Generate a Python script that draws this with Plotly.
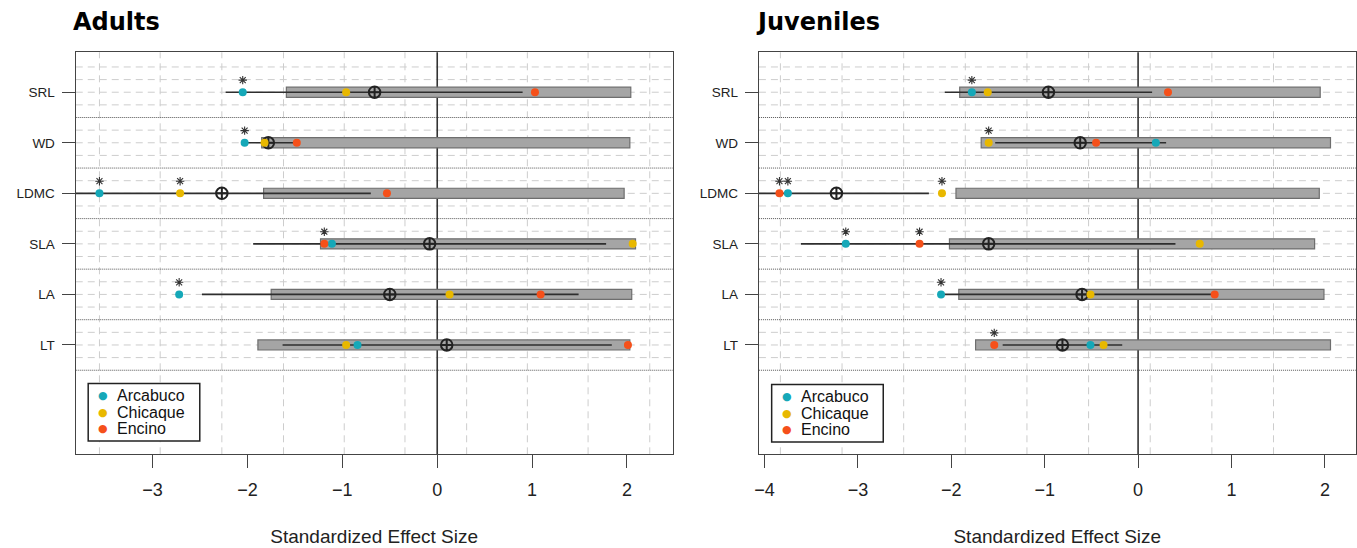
import plotly.graph_objects as go

# ---- data -------------------------------------------------------------
traits = ["SRL", "WD", "LDMC", "SLA", "LA", "LT"]
sites = ["Arcabuco", "Chicaque", "Encino"]

# Adults
ad_box_lo = [-1.59, -1.85, -1.83, -1.23, -1.75, -1.89]
ad_box_hi = [2.04, 2.03, 1.97, 2.09, 2.05, 2.03]
ad_line_lo = [-2.23, -2.00, -3.95, -1.94, -2.48, -1.63]
ad_line_hi = [0.90, -1.48, -0.70, 1.78, 1.49, 1.84]
ad_mean = [-0.66, -1.78, -2.27, -0.08, -0.50, 0.10]
ad_arcabuco = [-2.05, -2.03, -3.56, -1.11, -2.72, -0.84]
ad_chicaque = [-0.96, -1.82, -2.71, 2.06, 0.13, -0.96]
ad_encino = [1.03, -1.48, -0.53, -1.19, 1.09, 2.01]
ad_sig_arcabuco = [1, 1, 1, 0, 1, 0]
ad_sig_chicaque = [0, 0, 1, 0, 0, 0]
ad_sig_encino = [0, 0, 0, 1, 0, 0]

# Juveniles
ju_box_lo = [-1.91, -1.68, -1.95, -2.02, -1.92, -1.74]
ju_box_hi = [1.95, 2.06, 1.94, 1.89, 1.99, 2.06]
ju_line_lo = [-2.07, -1.53, -4.20, -3.61, -2.10, -1.45]
ju_line_hi = [0.15, 0.30, -2.24, 0.40, 0.85, -0.17]
ju_mean = [-0.96, -0.62, -3.23, -1.60, -0.60, -0.81]
ju_arcabuco = [-1.78, 0.19, -3.75, -3.13, -2.11, -0.51]
ju_chicaque = [-1.61, -1.60, -2.10, 0.66, -0.51, -0.37]
ju_encino = [0.32, -0.45, -3.84, -2.34, 0.82, -1.54]
ju_sig_arcabuco = [1, 0, 1, 1, 1, 0]
ju_sig_chicaque = [0, 1, 1, 0, 0, 0]
ju_sig_encino = [0, 0, 1, 1, 0, 1]

ad_xticks = [-3, -2, -1, 0, 1, 2]
ju_xticks = [-4, -3, -2, -1, 0, 1, 2]
ad_vgrid = [-3.56, -2.92, -2.27, -1.62, -0.98, -0.34, 0.31, 0.95, 1.59, 2.24]
ju_vgrid = [-3.83, -3.17, -2.51, -1.85, -1.19, -0.53, 0.13, 0.79, 1.45]

# ---- style ------------------------------------------------------------
site_colors = {"Arcabuco": "#15A8B8", "Chicaque": "#E8B800", "Encino": "#F5501A"}
W, H = 1357, 548
FONT = "Liberation Sans, Arial, sans-serif"
ypos = [len(traits) - i for i in range(len(traits))]   # SRL on top
yrange = [-1.163, 6.79]

panels = [
    dict(title="Adults", xa="x", ya="y", xrange=[-3.81, 2.48],
         xticks=ad_xticks, vgrid=ad_vgrid,
         box_lo=ad_box_lo, box_hi=ad_box_hi, line_lo=ad_line_lo, line_hi=ad_line_hi,
         mean=ad_mean, vals=[ad_arcabuco, ad_chicaque, ad_encino],
         sig=[ad_sig_arcabuco, ad_sig_chicaque, ad_sig_encino],
         dom=[71 / W, 670 / W], leg_px=(83.5, 383.5)),
    dict(title="Juveniles", xa="x2", ya="y2", xrange=[-4.06, 2.33],
         xticks=ju_xticks, vgrid=ju_vgrid,
         box_lo=ju_box_lo, box_hi=ju_box_hi, line_lo=ju_line_lo, line_hi=ju_line_hi,
         mean=ju_mean, vals=[ju_arcabuco, ju_chicaque, ju_encino],
         sig=[ju_sig_arcabuco, ju_sig_chicaque, ju_sig_encino],
         dom=[756.7 / W, 1355.7 / W], leg_px=(769.5, 384.5)),
]

fig = go.Figure()
shapes = []
annotations = []
ydom = [1 - 454.3 / H, 1 - 52.3 / H]


def px(x, y):
    """pixel position -> paper coordinates"""
    return x / W, 1 - y / H


for p in panels:
    xa, ya = p["xa"], p["ya"]
    xref_dom = xa + " domain"
    yref_dom = ya + " domain"

    # background grid: light dashed verticals
    for gx in p["vgrid"]:
        shapes.append(dict(type="line", xref=xa, yref=yref_dom, x0=gx, x1=gx, y0=0, y1=1,
                           line=dict(color="#CDCDCD", width=1, dash="7px,5px"), layer="below"))
    # light dashed horizontals around each trait row
    hlines = [y + d for y in ypos for d in (-0.25, 0, 0.25)] + [max(ypos) + 0.5]
    for hy in hlines:
        shapes.append(dict(type="line", xref=xref_dom, yref=ya, x0=0, x1=1, y0=hy, y1=hy,
                           line=dict(color="#CDCDCD", width=1, dash="7px,5px"), layer="below"))
    # dotted separators between trait rows
    for sy in [y - 0.5 for y in ypos]:
        shapes.append(dict(type="line", xref=xref_dom, yref=ya, x0=0, x1=1, y0=sy, y1=sy,
                           line=dict(color="#555555", width=1, dash="1px,1px"), layer="below"))
    # zero line
    shapes.append(dict(type="line", xref=xa, yref=yref_dom, x0=0, x1=0, y0=0, y1=1,
                       line=dict(color="#333333", width=1.6), layer="below"))

    # grey null-range boxes
    fig.add_trace(go.Bar(
        x=[hi - lo for lo, hi in zip(p["box_lo"], p["box_hi"])], base=p["box_lo"], y=ypos,
        orientation="h", width=0.2, marker=dict(color="#A5A5A5", line=dict(color="#6E6E6E", width=1.2)),
        xaxis=xa, yaxis=ya, showlegend=False, hoverinfo="skip"))

    # interval lines
    lx, ly = [], []
    for lo, hi, y in zip(p["line_lo"], p["line_hi"], ypos):
        lx += [lo, hi, None]
        ly += [y, y, None]
    fig.add_trace(go.Scatter(x=lx, y=ly, mode="lines", line=dict(color="#2E2E2E", width=1.6),
                             xaxis=xa, yaxis=ya, showlegend=False, hoverinfo="skip"))

    # overall mean
    fig.add_trace(go.Scatter(x=p["mean"], y=ypos, mode="markers",
                             marker=dict(symbol="circle-cross-open", size=11.5, color="#222222",
                                         line=dict(width=2, color="#222222")),
                             xaxis=xa, yaxis=ya, showlegend=False))

    # site values
    for site, vals in zip(sites, p["vals"]):
        fig.add_trace(go.Scatter(x=vals, y=ypos, mode="markers", name=site,
                                 marker=dict(size=8, color=site_colors[site]),
                                 xaxis=xa, yaxis=ya, showlegend=False))

    # significance asterisks
    sx, sy = [], []
    for vals, flags in zip(p["vals"], p["sig"]):
        for v, f, y in zip(vals, flags, ypos):
            if f:
                sx.append(v)
                sy.append(y + 0.24)
    fig.add_trace(go.Scatter(x=sx, y=sy, mode="markers",
                             marker=dict(symbol="asterisk-open", size=7, color="#333333",
                                         line=dict(width=1.1, color="#333333")),
                             xaxis=xa, yaxis=ya, showlegend=False, hoverinfo="skip"))

    # panel title
    tx, ty = px(p["dom"][0] * W - 5, 22)
    annotations.append(dict(text="<b>%s</b>" % p["title"], xref="paper", yref="paper",
                            x=tx, y=ty, xanchor="left", yanchor="middle",
                            showarrow=False, font=dict(family="DejaVu Sans", size=24, color="#000")))

    # site key
    lx0, ly0 = p["leg_px"]
    x0, y1 = px(lx0, ly0)
    x1, y0 = px(lx0 + 112, ly0 + 57.5)
    shapes.append(dict(type="rect", xref="paper", yref="paper", x0=x0, x1=x1, y0=y0, y1=y1,
                       line=dict(color="#222222", width=1.5), fillcolor="white", layer="above"))
    for k, site in enumerate(sites):
        rowy = ly0 + 12 + k * 16.5
        dx, dy = px(lx0 + 15, rowy)
        annotations.append(dict(text="\u25CF", xref="paper", yref="paper", x=dx, y=dy,
                                xanchor="center", yanchor="middle", showarrow=False,
                                font=dict(size=11, color=site_colors[site], family="DejaVu Sans")))
        tx2, ty2 = px(lx0 + 27, rowy)
        annotations.append(dict(text=site, xref="paper", yref="paper", x=tx2, y=ty2,
                                xanchor="left", yanchor="middle", showarrow=False,
                                font=dict(size=16, color="#111111", family=FONT)))

axis_common = dict(showline=True, mirror=True, linecolor="#444444", linewidth=1.3,
                   showgrid=False, zeroline=False, ticks="outside", tickcolor="#444444",
                   tickwidth=1.3)

layout = dict(
    width=W, height=H, margin=dict(l=0, r=0, t=0, b=0),
    plot_bgcolor="white", paper_bgcolor="white",
    font=dict(family=FONT, color="#222222"),
    shapes=shapes, annotations=annotations, barmode="overlay", showlegend=False,
)
for i, p in enumerate(panels):
    sfx = "" if i == 0 else str(i + 1)
    layout["xaxis" + sfx] = dict(axis_common, domain=p["dom"], range=p["xrange"],
                                 tickvals=p["xticks"], ticklen=13, ticklabelstandoff=6,
                                 tickfont=dict(size=18, family=FONT),
                                 title=dict(text="Standardized Effect Size", standoff=30,
                                            font=dict(size=19, family=FONT)),
                                 anchor="y" + sfx)
    layout["yaxis" + sfx] = dict(axis_common, domain=ydom, range=yrange,
                                 tickvals=ypos, ticktext=traits, ticklen=13, ticklabelstandoff=4,
                                 tickfont=dict(size=13.5, family=FONT),
                                 anchor="x" + sfx)

fig.update_layout(**layout)
fig.write_html("out.html")
